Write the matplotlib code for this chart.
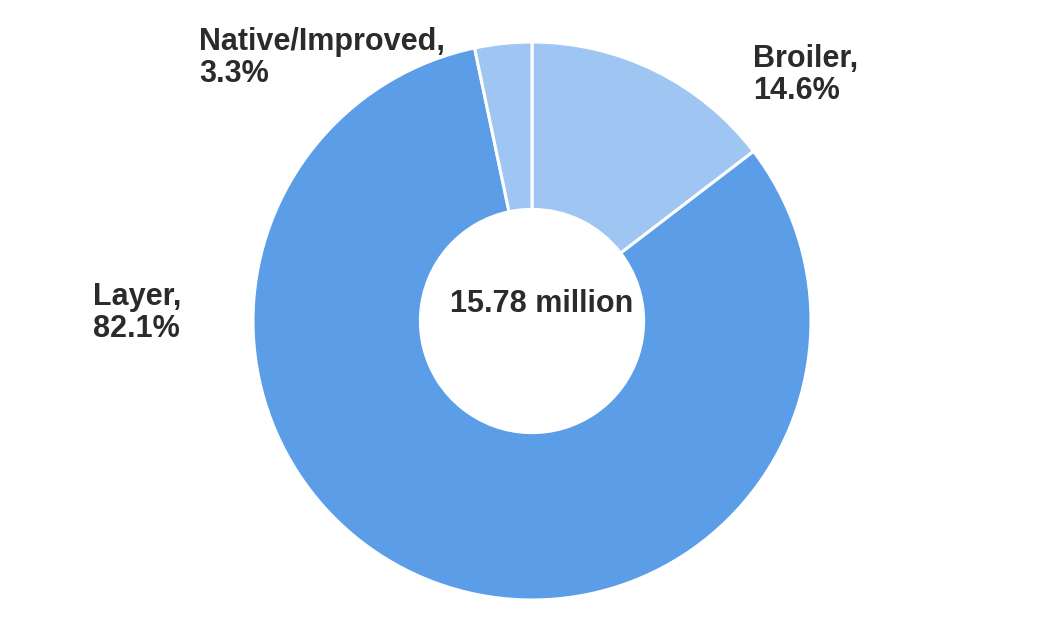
import matplotlib.pyplot as plt

# poultry population share by type
labels = ["Broiler", "Layer", "Native/Improved"]
shares = [14.6, 82.1, 3.3]
total_label = "15.78 million"
colors = ["#9fc6f2", "#5c9de8", "#9fc6f2"]

plt.rcParams['font.family'] = ['Liberation Sans', 'DejaVu Sans']

W, H = 1043, 627
fig = plt.figure(figsize=(W / 100, H / 100), dpi=100)
ax = fig.add_axes([0, 0, 1, 1])

# pixel coords from the top-left, converted to y-up
def py(y):
    return H - y

cx, cy, r = 532, 321, 279
ax.pie(shares, colors=colors, startangle=90, counterclock=False,
       center=(cx, py(cy)), radius=r, frame=True,
       wedgeprops=dict(width=r * 0.6, edgecolor='white', linewidth=2.2))
ax.set_xlim(0, W)
ax.set_ylim(0, H)
ax.set_aspect('equal')
ax.axis('off')

txt = dict(fontsize=22, fontweight='bold', color='#2b2b2b', linespacing=1.1)
ax.text(199, py(27), f"{labels[2]},\n{shares[2]}%", ha='left', va='top', **txt)
ax.text(753, py(44), f"{labels[0]},\n{shares[0]}%", ha='left', va='top', **txt)
ax.text(93, py(282), f"{labels[1]},\n{shares[1]}%", ha='left', va='top', **txt)
ax.text(cx + 10, py(304), total_label, ha='center', va='center', **txt)

fig.savefig("out.png", dpi=100)
